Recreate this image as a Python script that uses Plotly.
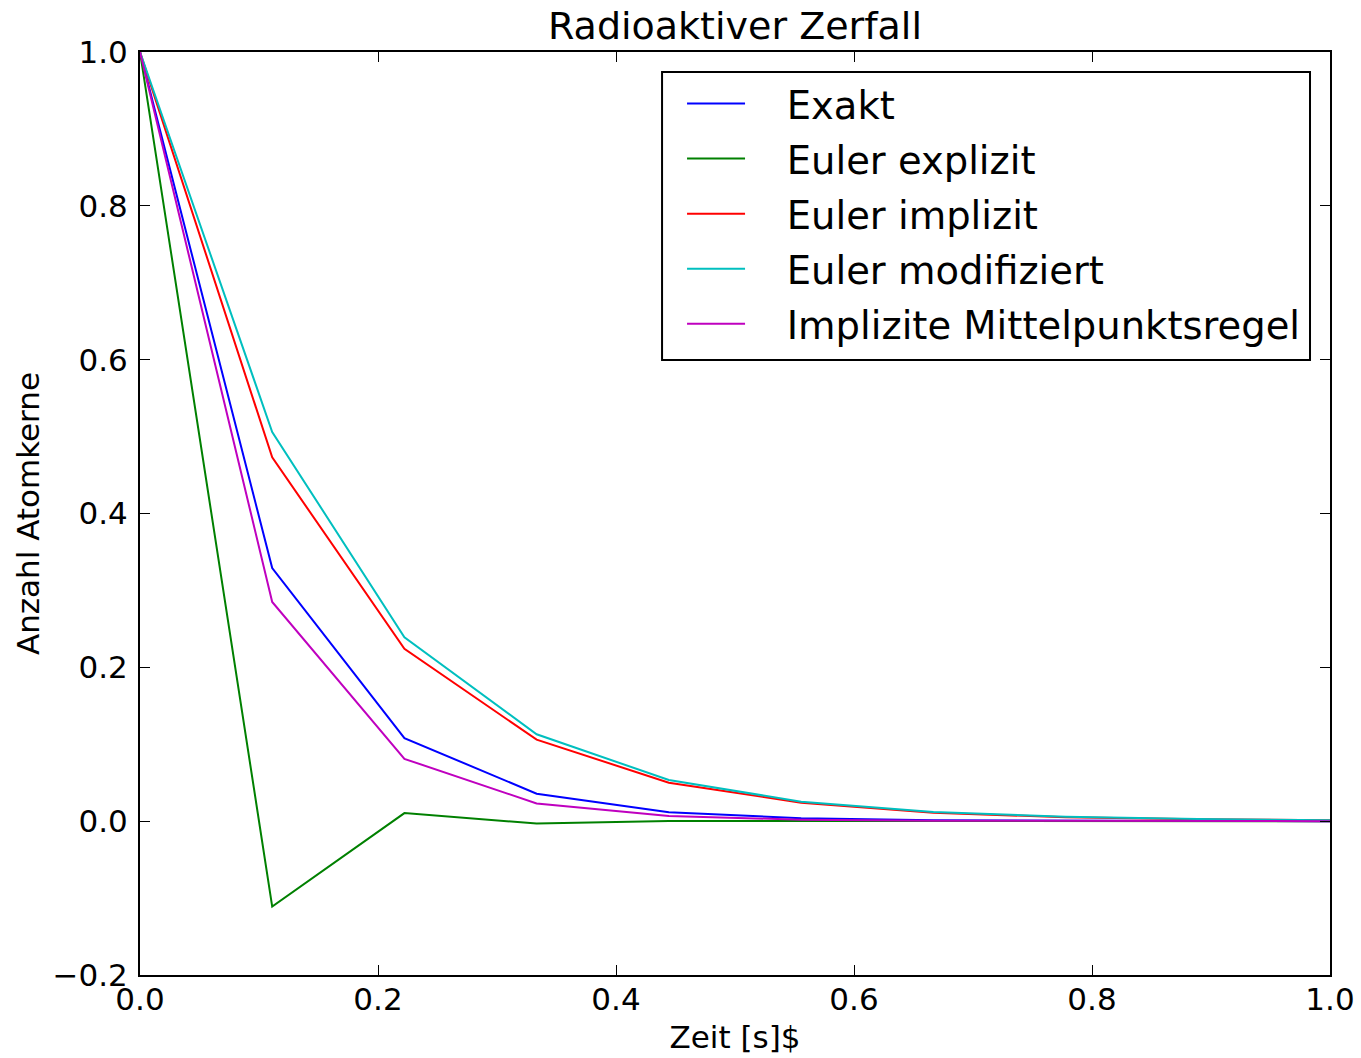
import plotly.graph_objects as go

# Zeitpunkte (10 Schritte auf [0, 1])
zeit = [0.0, 0.1111, 0.2222, 0.3333, 0.4444, 0.5556, 0.6667, 0.7778, 0.8889, 1.0]

# Anzahl Atomkerne je Verfahren
exakt = [1.0, 0.329, 0.108, 0.0357, 0.0117, 0.0039, 0.0013, 0.0004, 0.0001, 0.00005]
euler_explizit = [1.0, -0.111, 0.0105, -0.003, 0.0002, 0.0, 0.0, 0.0, 0.0, 0.0]
euler_implizit = [1.0, 0.473, 0.224, 0.106, 0.050, 0.024, 0.011, 0.005, 0.0025, 0.0012]
euler_modifiziert = [1.0, 0.506, 0.239, 0.113, 0.0535, 0.0253, 0.012, 0.0057, 0.0027, 0.0013]
mittelpunkt = [1.0, 0.285, 0.081, 0.023, 0.0067, 0.0019, 0.0005, 0.0002, 0.00005, 0.0]

namen = ["Exakt", "Euler explizit", "Euler implizit", "Euler modifiziert",
         "Implizite Mittelpunktsregel"]
reihen = [exakt, euler_explizit, euler_implizit, euler_modifiziert, mittelpunkt]
farben = ["#0000ff", "#008000", "#ff0000", "#00bfbf", "#bf00bf"]

FONT = "DejaVu Sans"
EINZUG = "\u00a0\u00a0\u00a0"  # Abstand zwischen Linienmuster und Legendentext

fig = go.Figure()
for name, werte, farbe in zip(namen, reihen, farben):
    fig.add_trace(go.Scatter(
        x=zeit, y=werte, mode="lines", name=EINZUG + name, legendgroup=name,
        line=dict(color=farbe, width=2),
    ))

achse = dict(
    showline=True, linecolor="black", linewidth=2, mirror="ticks",
    ticks="inside", ticklen=10, tickwidth=1, tickcolor="black",
    showgrid=False, zeroline=False, dtick=0.2, tickformat=".1f",
    automargin=False,
    tickfont=dict(family=FONT, size=31, color="black"),
)

# Rahmen der Legende
fig.add_shape(
    type="rect", xref="paper", yref="paper",
    x0=0.4387, x1=0.9832, y0=0.6663, y1=0.9783,
    line=dict(color="black", width=2), fillcolor="white", layer="above",
)

fig.update_layout(
    width=1361, height=1058,
    margin=dict(l=140, r=31, t=52, b=83),
    paper_bgcolor="white", plot_bgcolor="white",
    font=dict(family=FONT, color="black"),
    title=dict(text="Radioaktiver Zerfall", x=0.5, xref="paper",
               y=1 - 26 / 1058, yanchor="middle",
               font=dict(family=FONT, size=38, color="black")),
    xaxis=dict(achse, range=[0, 1], tick0=0, ticklabelstandoff=-4,
               title=dict(text="Zeit [s]$", standoff=10,
                          font=dict(family=FONT, size=31, color="black"))),
    yaxis=dict(achse, range=[-0.2, 1.0], tick0=-0.2, ticklabelstandoff=4,
               title=dict(text="Anzahl Atomkerne", standoff=4,
                          font=dict(family=FONT, size=31, color="black"))),
    legend=dict(
        x=0.4555, xanchor="left", y=0.9783, yanchor="top",
        borderwidth=0, bgcolor="rgba(0,0,0,0)",
        font=dict(family=FONT, size=38.5, color="black"),
        itemwidth=58, tracegroupgap=2,
    ),
)

fig.write_html("out.html")
